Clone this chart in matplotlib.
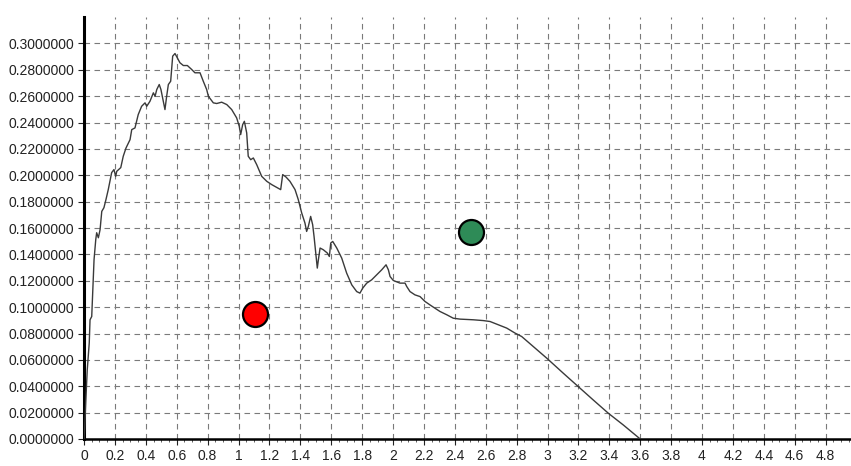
import numpy as np
import matplotlib.pyplot as plt

plt.rcParams['font.family'] = ['Liberation Sans', 'DejaVu Sans']

# measured curve (x, value)
curve_x = [0.0, 0.0045, 0.013, 0.021, 0.034, 0.039, 0.050, 0.060, 0.065, 0.076,
           0.082, 0.093, 0.104, 0.115, 0.129, 0.142, 0.157, 0.179, 0.194, 0.205,
           0.212, 0.238, 0.254, 0.272, 0.298, 0.309, 0.330, 0.351, 0.373, 0.395,
           0.406, 0.427, 0.449, 0.460, 0.471, 0.487, 0.498, 0.513, 0.524, 0.535,
           0.546, 0.561, 0.574, 0.589, 0.604, 0.621, 0.643, 0.669, 0.697, 0.718,
           0.751, 0.772, 0.794, 0.805, 0.837, 0.859, 0.891, 0.924, 0.956, 0.988,
           1.005, 1.014, 1.027, 1.038, 1.053, 1.063, 1.079, 1.096, 1.118, 1.150,
           1.183, 1.215, 1.243, 1.273, 1.286, 1.307, 1.333, 1.366, 1.387, 1.409,
           1.430, 1.441, 1.452, 1.467, 1.480, 1.489, 1.502, 1.510, 1.517, 1.528,
           1.549, 1.575, 1.588, 1.597, 1.610, 1.636, 1.668, 1.700, 1.733, 1.765,
           1.786, 1.804, 1.830, 1.862, 1.894, 1.927, 1.955, 1.970, 1.981, 2.002,
           2.045, 2.078, 2.089, 2.110, 2.142, 2.175, 2.207, 2.239, 2.272, 2.304,
           2.348, 2.390, 2.434, 2.520, 2.584, 2.628, 2.682, 2.736, 2.790, 2.833,
           2.908, 2.995, 3.102, 3.199, 3.296, 3.394, 3.491, 3.600]
curve_y = [0.0, 0.0081, 0.0321, 0.0524, 0.0729, 0.0904, 0.0929, 0.1207, 0.1359, 0.1511,
           0.1564, 0.1526, 0.1587, 0.1726, 0.1754, 0.1815, 0.1891, 0.2020, 0.2043, 0.1992,
           0.2030, 0.2058, 0.2144, 0.2207, 0.2270, 0.2346, 0.2359, 0.2460, 0.2523, 0.2549,
           0.2523, 0.2561, 0.2625, 0.2599, 0.2650, 0.2688, 0.2650, 0.2561, 0.2498, 0.2599,
           0.2688, 0.2713, 0.2903, 0.2923, 0.2891, 0.2853, 0.2832, 0.2832, 0.2802, 0.2777,
           0.2777, 0.2713, 0.2650, 0.2599, 0.2549, 0.2544, 0.2554, 0.2536, 0.2498, 0.2435,
           0.2371, 0.2308, 0.2384, 0.2409, 0.2321, 0.2144, 0.2118, 0.2131, 0.2080, 0.1992,
           0.1954, 0.1929, 0.1911, 0.1891, 0.2005, 0.1987, 0.1954, 0.1891, 0.1815, 0.1714,
           0.1638, 0.1574, 0.1612, 0.1688, 0.1625, 0.1536, 0.1384, 0.1296, 0.1359, 0.1448,
           0.1435, 0.1410, 0.1384, 0.1486, 0.1498, 0.1448, 0.1372, 0.1258, 0.1169, 0.1118,
           0.1106, 0.1144, 0.1182, 0.1207, 0.1245, 0.1283, 0.1321, 0.1283, 0.1232, 0.1202,
           0.1182, 0.1182, 0.1156, 0.1118, 0.1093, 0.1080, 0.1043, 0.1017, 0.0992, 0.0967,
           0.0942, 0.0916, 0.0909, 0.0904, 0.0898, 0.0891, 0.0866, 0.0841, 0.0803, 0.0777,
           0.0701, 0.0613, 0.0499, 0.0397, 0.0296, 0.0195, 0.0106, 0.0]

# the two highlighted points
red_pt = (1.107, 0.095)
green_pt = (2.505, 0.157)

x_ticks = np.arange(0, 4.81, 0.2)
y_ticks = np.arange(0, 0.301, 0.02)

fig = plt.figure(figsize=(8.51, 4.66), dpi=100)
ax = fig.add_axes([84 / 851, 27 / 466, 767 / 851, 422 / 466])

ax.plot(curve_x, curve_y, color='#3a3a3a', lw=1.0, zorder=3)
ax.plot(*red_pt, 'o', ms=18, color='#ff0000', mec='black', mew=1.6, zorder=4)
ax.plot(*green_pt, 'o', ms=18, color='#2e8b57', mec='black', mew=1.6, zorder=4)

ax.set_xlim(0, 767 / 154.5)
ax.set_ylim(0, 0.32)
ax.set_xticks(x_ticks)
ax.set_xticklabels([f'{v:g}' for v in np.round(x_ticks, 1)])
ax.set_xticks(np.arange(0, 4.97, 0.05), minor=True)
ax.set_yticks(y_ticks)
ax.set_yticklabels([f'{v:.7f}' for v in y_ticks])

ax.grid(True, which='major', color='#7a7a7a', lw=0.8, linestyle=(0, (5, 4)))
ax.set_axisbelow(True)

for side in ('top', 'right'):
    ax.spines[side].set_visible(False)
ax.spines['left'].set_linewidth(2.2)
ax.spines['bottom'].set_linewidth(1.8)

ax.tick_params(axis='both', which='major', labelsize=10, colors='#222222',
               length=4, width=0.8, pad=3)
ax.tick_params(axis='x', which='minor', length=2.5, width=0.6, colors='#444444')
ax.tick_params(axis='y', which='minor', left=False)

fig.savefig('out.png', dpi=100)
